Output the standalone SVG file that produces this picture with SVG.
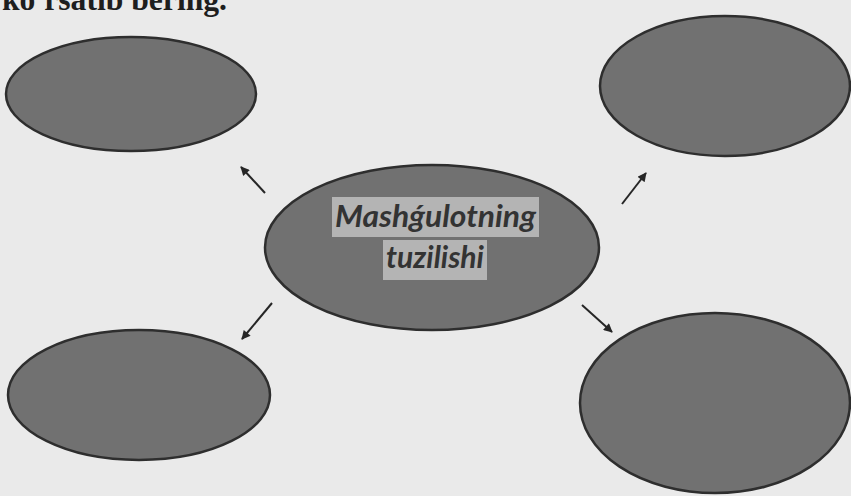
<svg xmlns="http://www.w3.org/2000/svg" width="851" height="496" viewBox="0 0 851 496">
<defs>
<marker id="ah" viewBox="0 0 10 10" refX="9" refY="5" markerWidth="11" markerHeight="9" markerUnits="userSpaceOnUse" orient="auto">
<path d="M0,0 L10,5 L0,10 z" fill="#262626"/>
</marker>
</defs>
<style>
.node{fill:#717171;stroke:#2e2e2e;stroke-width:2.5}
.conn{stroke:#262626;stroke-width:2;fill:none;marker-end:url(#ah)}
.hl{fill:#b4b4b4}
.lbl{font-family:Lato,"Liberation Sans",sans-serif;font-style:italic;font-weight:bold;font-size:30px;fill:#333333;text-anchor:middle}
.title{font-family:"Liberation Serif",serif;font-weight:bold;font-size:32px;fill:#1e1e1e}
</style>
<rect width="851" height="496" fill="#eaeaea"/>
<text class="title" x="2" y="10" textLength="225" lengthAdjust="spacingAndGlyphs">ko'rsatib bering.</text>
<g id="node-top-left"><ellipse class="node" cx="131" cy="94" rx="125" ry="57"/></g>
<g id="node-top-right"><ellipse class="node" cx="725" cy="86" rx="125" ry="70"/></g>
<g id="node-bottom-left"><ellipse class="node" cx="139" cy="395" rx="131" ry="65"/></g>
<g id="node-bottom-right"><ellipse class="node" cx="715" cy="403" rx="135" ry="90"/></g>
<g id="node-center">
<ellipse class="node" cx="432" cy="247.5" rx="167" ry="82.5"/>
<rect class="hl" x="332" y="197" width="207" height="40"/>
<rect class="hl" x="383" y="240" width="104" height="40"/>
<text class="lbl" x="435.5" y="227" textLength="201" lengthAdjust="spacingAndGlyphs">Mashǵulotning</text>
<text class="lbl" x="435" y="268" textLength="98" lengthAdjust="spacingAndGlyphs">tuzilishi</text>
</g>
<g id="connectors">
<line class="conn" x1="265" y1="193" x2="241" y2="167"/>
<line class="conn" x1="622" y1="204" x2="646" y2="173"/>
<line class="conn" x1="272" y1="303" x2="242" y2="339"/>
<line class="conn" x1="582" y1="305" x2="612" y2="332"/>
</g>
</svg>
